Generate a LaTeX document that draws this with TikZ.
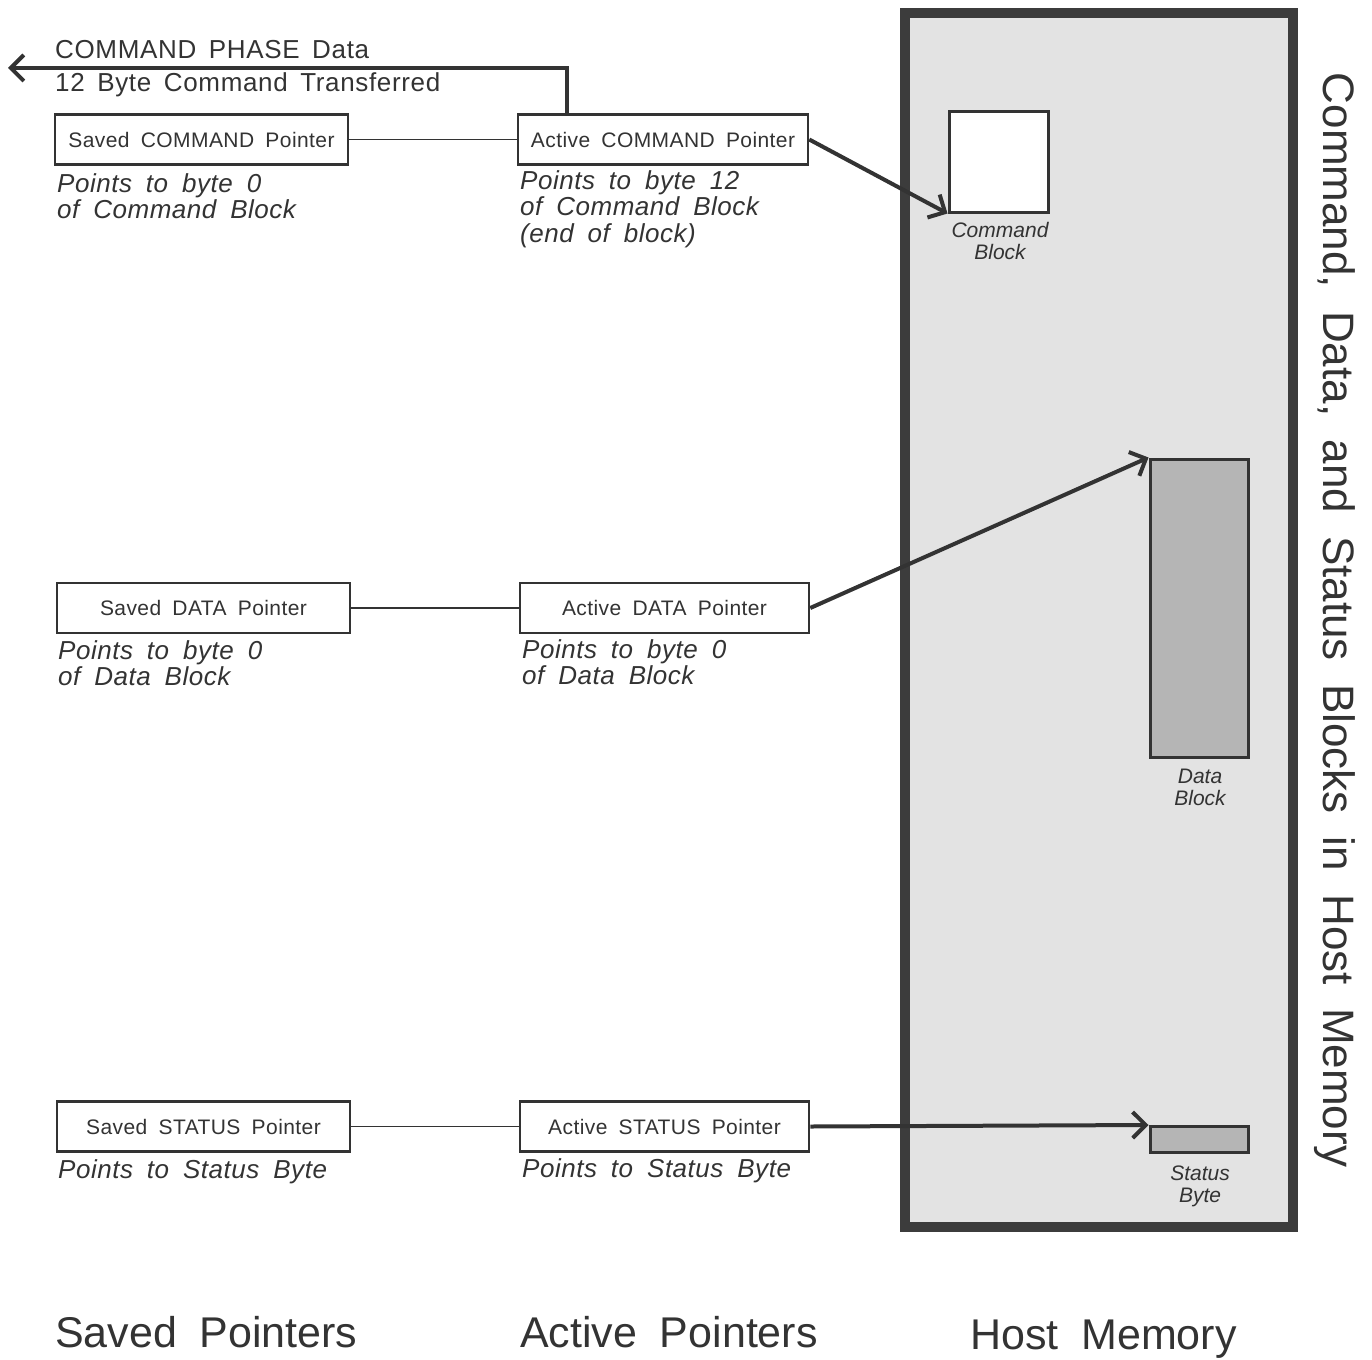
\documentclass[tikz,border=0pt]{standalone}
\usepackage{fontspec}
\setmainfont{Liberation Sans}
\newfontfamily\topf{Liberation Sans}[LetterSpace=2.5,WordSpace=1.6]
\newfontfamily\boxf{Liberation Sans}[LetterSpace=2,WordSpace=1.6]
\newfontfamily\notef{Liberation Sans}[LetterSpace=2,WordSpace=1.8]
\newfontfamily\bigf{Liberation Sans}[WordSpace=1.5]
\newfontfamily\vertf{Liberation Sans}[WordSpace=1.9]
\usetikzlibrary{arrows.meta}
\definecolor{ink}{HTML}{333333}
\definecolor{memborder}{HTML}{3C3C3C}
\definecolor{memfill}{HTML}{E3E3E3}
\definecolor{blkfill}{HTML}{B5B5B5}
\begin{document}
\begin{tikzpicture}[x=1pt,y=-1pt,
  ptr/.style={draw=ink, line width=2.5pt, fill=white, minimum width=291pt, minimum height=50pt, inner sep=0pt, font=\boxf\fontsize{21}{24}\selectfont, text=ink},
  note/.style={anchor=north west, inner sep=0pt, align=left, font=\notef\itshape\fontsize{26}{26.5}\selectfont, text=ink},
  blklabel/.style={anchor=north, inner sep=0pt, align=center, font=\itshape\fontsize{21}{22}\selectfont, text=ink},
  biglabel/.style={anchor=base west, inner sep=0pt, font=\bigf\fontsize{43}{48}\selectfont, text=ink},
  toplabel/.style={anchor=base west, inner sep=0pt, font=\topf\fontsize{26}{28}\selectfont, text=ink},
  link/.style={draw=ink, line width=1.3pt},
  ptrarrow/.style={draw=ink, line width=4pt, -{Straight Barb[length=13pt,width=26pt]}},
  memblk/.style={draw=ink, line width=3pt, inner sep=0pt}
]
\useasboundingbox (0,0) rectangle (1372,1359);

% host memory
\node[draw=memborder, line width=10pt, fill=memfill, minimum width=388pt, minimum height=1214pt, inner sep=0pt] (host) at (1099,620) {};
\node[memblk, fill=white, minimum width=99pt, minimum height=100pt] (cmdblk) at (998.5,162) {};
\node[memblk, fill=blkfill, minimum width=98pt, minimum height=298pt] (datablk) at (1199,608) {};
\node[memblk, fill=blkfill, minimum width=98pt, minimum height=26pt] (statblk) at (1199,1139.5) {};
\node[blklabel] (cmdlbl) at (1000,222) {Command\\Block};
\node[blklabel] (datalbl) at (1200,769) {Data\\Block};
\node[blklabel] (statlbl) at (1200,1166) {Status\\Byte};

% pointer boxes
\node[ptr, minimum width=293pt] (scmd) at (201.5,139.5) {Saved COMMAND Pointer};
\node[ptr, minimum width=290pt] (acmd) at (663,139.5) {Active COMMAND Pointer};
\node[ptr, minimum width=293pt] (sdata) at (203.5,608) {Saved DATA Pointer};
\node[ptr, minimum width=289pt] (adata) at (664.5,608) {Active DATA Pointer};
\node[ptr, minimum width=293pt] (sstat) at (203.5,1126.5) {Saved STATUS Pointer};
\node[ptr, minimum width=289pt] (astat) at (664.5,1126.5) {Active STATUS Pointer};

% notes
\node[note] (n1) at (57,173) {Points to byte 0\\of Command Block};
\node[note] (n2) at (520,170) {Points to byte 12\\of Command Block\\(end of block)};
\node[note] (n3) at (58,640) {Points to byte 0\\of Data Block};
\node[note] (n4) at (522,639) {Points to byte 0\\of Data Block};
\node[note] (n5) at (58,1159) {Points to Status Byte};
\node[note] (n6) at (522,1158) {Points to Status Byte};

% links
\draw[link] (scmd) -- (acmd);
\draw[link] (sdata) -- (adata);
\draw[link] (sstat) -- (astat);

% arrows
\coordinate (cmdout) at (8,68);
\draw[ptrarrow] ([xshift=50pt]acmd.north west) |- (cmdout);
\node[toplabel] (ph1) at (55,59) {COMMAND PHASE Data};
\node[toplabel] (ph2) at (55,92) {12 Byte Command Transferred};
\draw[ptrarrow] (acmd.east) -- (cmdblk.south west);
\draw[ptrarrow] (adata.east) -- (datablk.north west);
\draw[ptrarrow] (astat.east) -- (statblk.north west);

% side title
\node[rotate=-90, inner sep=0pt, font=\vertf\fontsize{44}{48}\selectfont, text=ink] (title) at (1335,620) {Command, Data, and Status Blocks in Host Memory};

% bottom labels
\node[biglabel] (l1) at (55,1347) {Saved Pointers};
\node[biglabel] (l2) at (520,1347) {Active Pointers};
\node[biglabel] (l3) at (970,1349) {Host Memory};
\end{tikzpicture}
\end{document}
